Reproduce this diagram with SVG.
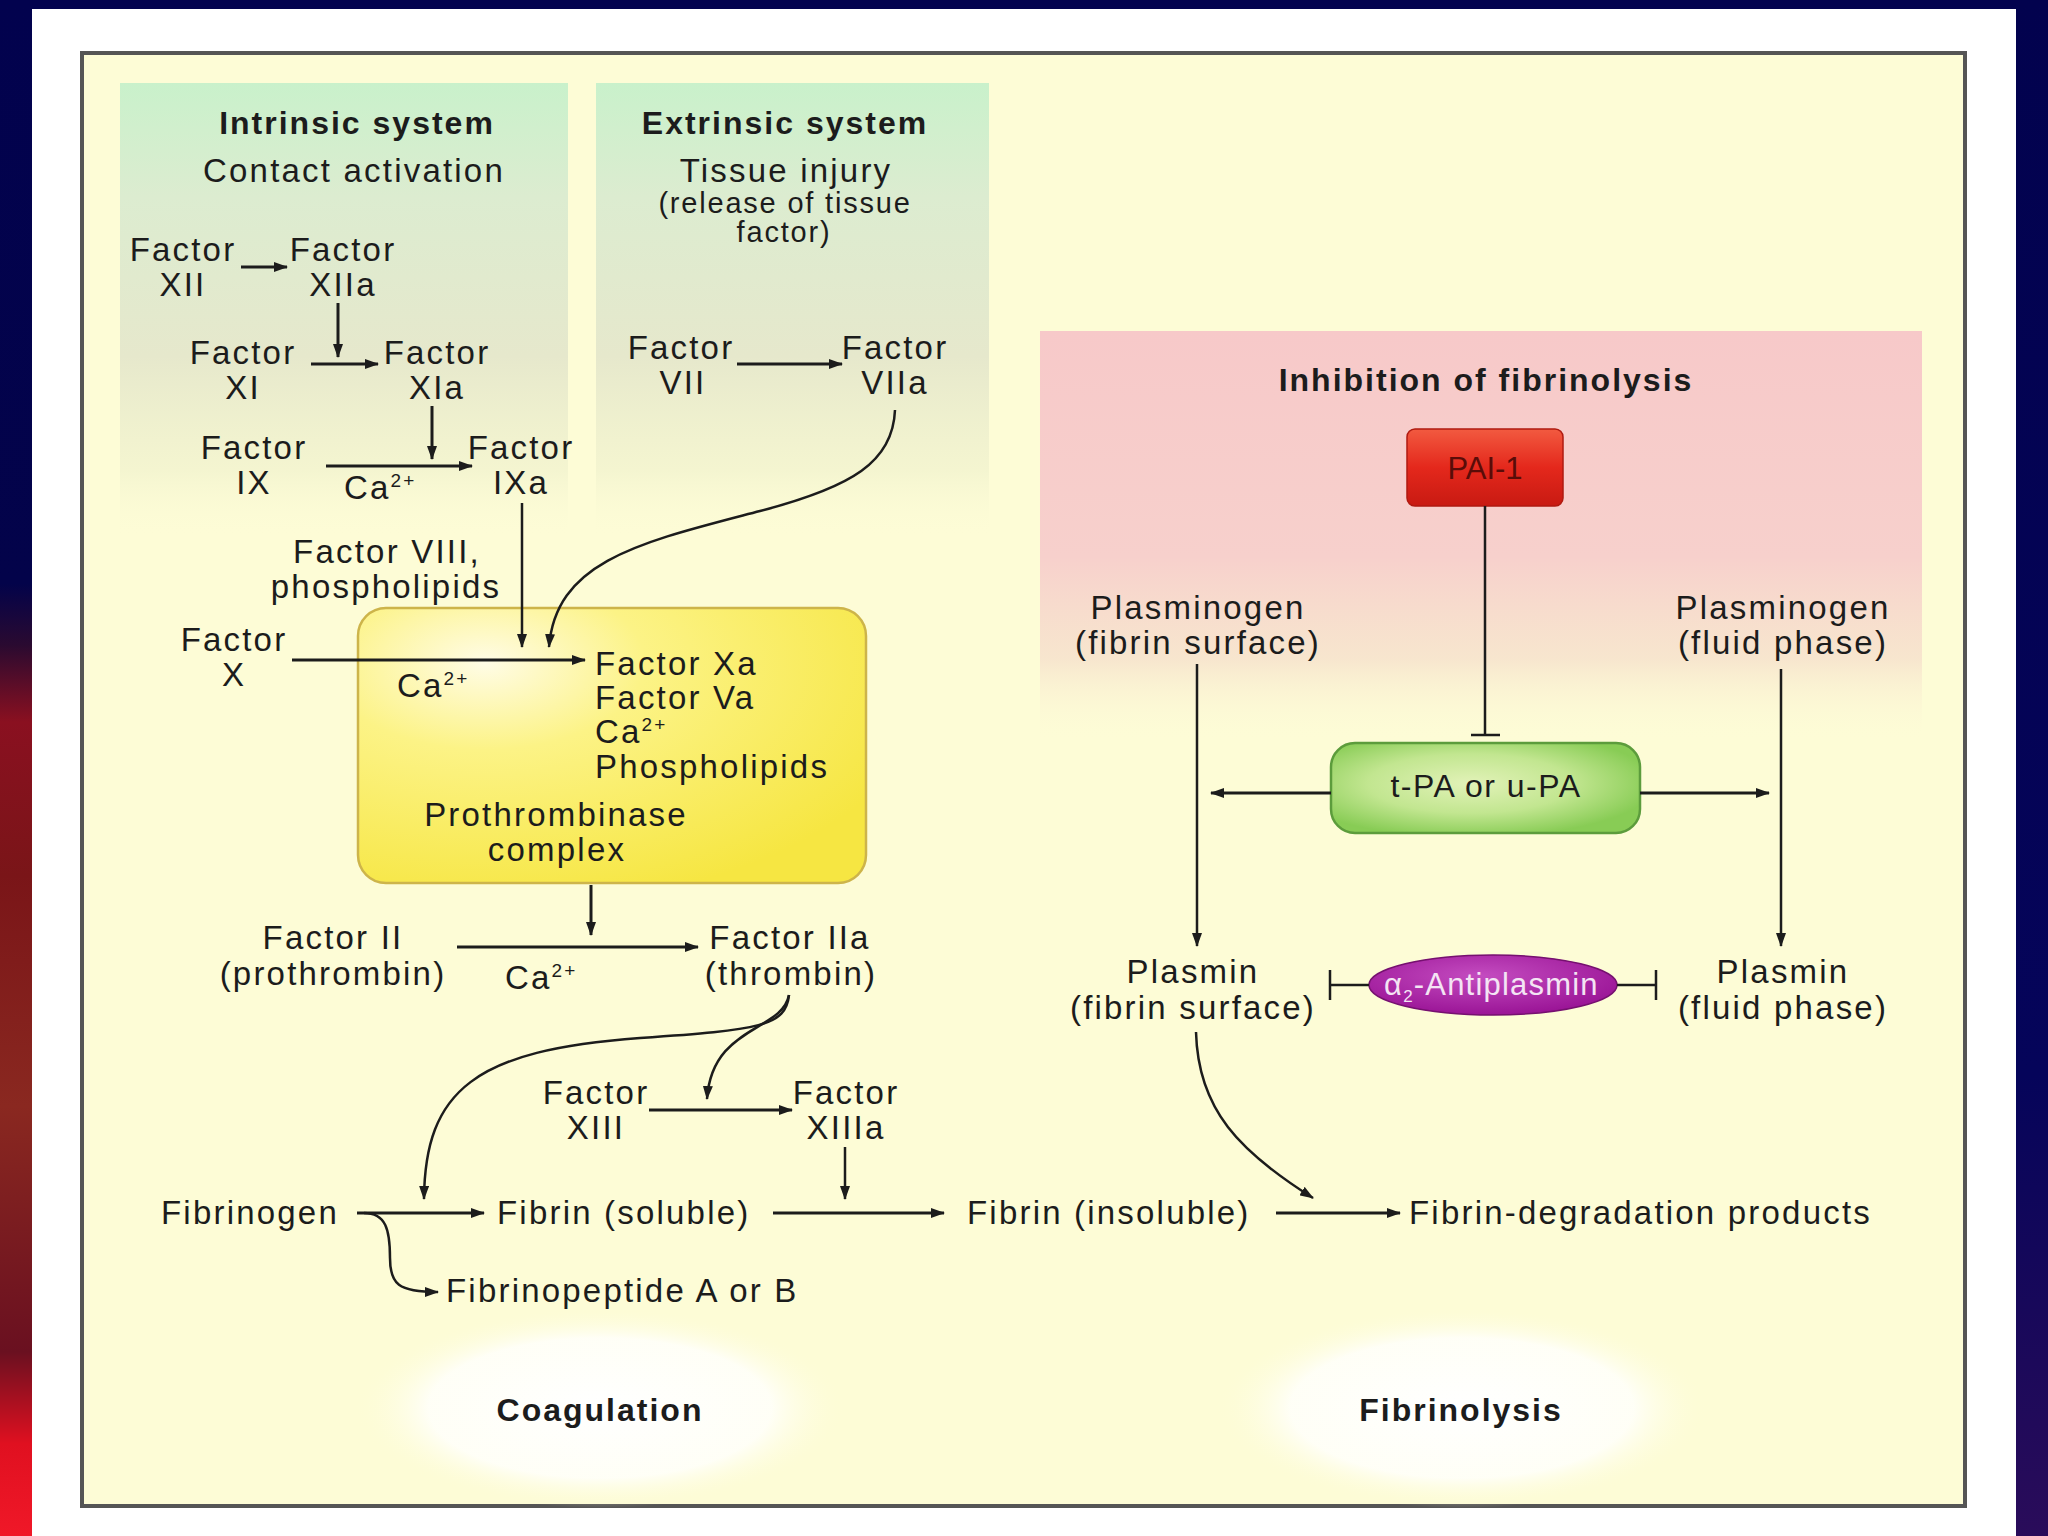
<svg xmlns="http://www.w3.org/2000/svg" width="2048" height="1536" viewBox="0 0 2048 1536">
<defs>
<style>
.t{font-family:"Liberation Sans",Arial,sans-serif;font-size:33px;letter-spacing:2.2px;fill:#1c1c1c}
.b{font-weight:bold;font-size:32px;letter-spacing:2px}
.c{text-anchor:middle}
.s{font-size:29px;letter-spacing:1.8px}
.ln{stroke:#1c1c1c;stroke-width:3;fill:none}
.th{stroke:#1c1c1c;stroke-width:2.5;fill:none}
.arr{marker-end:url(#ah)}
</style>
<marker id="ah" viewBox="0 0 14 10" refX="13" refY="5" markerWidth="14" markerHeight="10" markerUnits="userSpaceOnUse" orient="auto">
<path d="M0,0 L14,5 L0,10 z" fill="#1c1c1c"/>
</marker>
<linearGradient id="leftStrip" x1="0" y1="0" x2="0" y2="1">
<stop offset="0" stop-color="#02024e"/>
<stop offset="0.38" stop-color="#03034a"/>
<stop offset="0.42" stop-color="#2a0a30"/>
<stop offset="0.47" stop-color="#8a1020"/>
<stop offset="0.57" stop-color="#7a1518"/>
<stop offset="0.72" stop-color="#8a2820"/>
<stop offset="0.88" stop-color="#6a1020"/>
<stop offset="0.94" stop-color="#e01020"/>
<stop offset="1" stop-color="#f01828"/>
</linearGradient>
<linearGradient id="rightStrip" x1="0" y1="0" x2="0" y2="1">
<stop offset="0" stop-color="#02024e"/>
<stop offset="0.7" stop-color="#05045a"/>
<stop offset="1" stop-color="#2a0c5a"/>
</linearGradient>
<linearGradient id="greenG" x1="0" y1="0" x2="0" y2="1">
<stop offset="0" stop-color="#c9f1cb"/>
<stop offset="0.25" stop-color="#dcecd0"/>
<stop offset="0.6" stop-color="#e6e8cc"/>
<stop offset="0.85" stop-color="#eef0cc" stop-opacity="0.6"/>
<stop offset="1" stop-color="#fdfcd6" stop-opacity="0"/>
</linearGradient>
<linearGradient id="pinkG" x1="0" y1="0" x2="0" y2="1">
<stop offset="0" stop-color="#f7c9c9"/>
<stop offset="0.55" stop-color="#f7d0cc"/>
<stop offset="0.8" stop-color="#f6e0cc" stop-opacity="0.8"/>
<stop offset="1" stop-color="#fdfcd6" stop-opacity="0"/>
</linearGradient>
<radialGradient id="yelG" cx="0.25" cy="0.2" r="0.9">
<stop offset="0" stop-color="#fffce6"/>
<stop offset="0.35" stop-color="#fcf386"/>
<stop offset="1" stop-color="#f6e642"/>
</radialGradient>
<linearGradient id="redG" x1="0" y1="0" x2="0" y2="1">
<stop offset="0" stop-color="#f25a40"/>
<stop offset="0.5" stop-color="#e4281c"/>
<stop offset="1" stop-color="#c81a12"/>
</linearGradient>
<radialGradient id="grnG" cx="0.45" cy="0.45" r="0.6">
<stop offset="0" stop-color="#e2f2b8"/>
<stop offset="0.55" stop-color="#c2e690"/>
<stop offset="1" stop-color="#88cc55"/>
</radialGradient>
<radialGradient id="magG" cx="0.45" cy="0.35" r="0.65">
<stop offset="0" stop-color="#c44cc0"/>
<stop offset="1" stop-color="#9a1496"/>
</radialGradient>
<radialGradient id="glow" cx="0.5" cy="0.5" r="0.5">
<stop offset="0" stop-color="#ffffff"/>
<stop offset="0.7" stop-color="#fffffa" stop-opacity="0.9"/>
<stop offset="1" stop-color="#fdfcd6" stop-opacity="0"/>
</radialGradient>
</defs>

<!-- outer background -->
<rect x="0" y="0" width="2048" height="1536" fill="#02024e"/>
<rect x="0" y="0" width="32" height="1536" fill="url(#leftStrip)"/>
<rect x="2016" y="0" width="32" height="1536" fill="url(#rightStrip)"/>
<rect x="32" y="9" width="1984" height="1527" fill="#ffffff"/>

<!-- frame -->
<rect x="82" y="53" width="1883" height="1453" fill="#fdfcd6" stroke="#555555" stroke-width="4"/>

<!-- panels -->
<g id="panel-intrinsic"><rect x="120" y="83" width="448" height="455" fill="url(#greenG)"/></g>
<g id="panel-extrinsic"><rect x="596" y="83" width="393" height="455" fill="url(#greenG)"/></g>
<g id="panel-inhibition"><rect x="1040" y="331" width="882" height="410" fill="url(#pinkG)"/></g>
<ellipse cx="600" cy="1408" rx="245" ry="100" fill="url(#glow)"/>
<ellipse cx="1462" cy="1408" rx="245" ry="100" fill="url(#glow)"/>

<!-- headings -->
<g id="intrinsic-heading">
<text class="t b c" x="357" y="134">Intrinsic system</text>
<text class="t c" x="354" y="182">Contact activation</text>
</g>
<g id="extrinsic-heading">
<text class="t b c" x="785" y="134">Extrinsic system</text>
<text class="t c" x="786" y="182">Tissue injury</text>
<text class="t s c" x="785" y="213">(release of tissue</text>
<text class="t s c" x="784" y="242">factor)</text>
</g>

<!-- prothrombinase complex box -->
<g id="prothrombinase">
<rect x="358" y="608" width="508" height="275" rx="28" fill="url(#yelG)" stroke="#cdb44a" stroke-width="2.5"/>
<text class="t" x="397" y="697">Ca<tspan font-size="19" dy="-12">2+</tspan></text>
<text class="t" x="595" y="675">Factor Xa</text>
<text class="t" x="595" y="709">Factor Va</text>
<text class="t" x="595" y="743">Ca<tspan font-size="19" dy="-12">2+</tspan></text>
<text class="t" x="595" y="778">Phospholipids</text>
<text class="t c" x="556" y="826">Prothrombinase</text>
<text class="t c" x="557" y="861">complex</text>
</g>

<!-- factor nodes -->
<g id="factor-XII"><text class="t c" x="183" y="261">Factor</text><text class="t c" x="183" y="296">XII</text></g>
<g id="factor-XIIa"><text class="t c" x="343" y="261">Factor</text><text class="t c" x="343" y="296">XIIa</text></g>
<g id="factor-XI"><text class="t c" x="243" y="364">Factor</text><text class="t c" x="243" y="399">XI</text></g>
<g id="factor-XIa"><text class="t c" x="437" y="364">Factor</text><text class="t c" x="437" y="399">XIa</text></g>
<g id="factor-IX"><text class="t c" x="254" y="459">Factor</text><text class="t c" x="254" y="494">IX</text></g>
<g id="factor-IXa"><text class="t c" x="521" y="459">Factor</text><text class="t c" x="521" y="494">IXa</text></g>
<g id="ca-IX"><text class="t" x="344" y="499">Ca<tspan font-size="19" dy="-12">2+</tspan></text></g>
<g id="factor-VII"><text class="t c" x="681" y="359">Factor</text><text class="t c" x="683" y="394">VII</text></g>
<g id="factor-VIIa"><text class="t c" x="895" y="359">Factor</text><text class="t c" x="895" y="394">VIIa</text></g>
<g id="factor-VIII"><text class="t c" x="387" y="563">Factor VIII,</text><text class="t c" x="386" y="598">phospholipids</text></g>
<g id="factor-X"><text class="t c" x="234" y="651">Factor</text><text class="t c" x="234" y="686">X</text></g>
<g id="factor-II"><text class="t c" x="333" y="949">Factor II</text><text class="t c" x="333" y="985">(prothrombin)</text></g>
<g id="ca-II"><text class="t" x="505" y="989">Ca<tspan font-size="19" dy="-12">2+</tspan></text></g>
<g id="factor-IIa"><text class="t c" x="790" y="949">Factor IIa</text><text class="t c" x="791" y="985">(thrombin)</text></g>
<g id="factor-XIII"><text class="t c" x="596" y="1104">Factor</text><text class="t c" x="596" y="1139">XIII</text></g>
<g id="factor-XIIIa"><text class="t c" x="846" y="1104">Factor</text><text class="t c" x="846" y="1139">XIIIa</text></g>
<g id="fibrinogen"><text class="t" x="161" y="1224">Fibrinogen</text></g>
<g id="fibrin-soluble"><text class="t" x="497" y="1224">Fibrin (soluble)</text></g>
<g id="fibrin-insoluble"><text class="t" x="967" y="1224">Fibrin (insoluble)</text></g>
<g id="fdp"><text class="t" x="1409" y="1224">Fibrin-degradation products</text></g>
<g id="fibrinopeptide"><text class="t" x="446" y="1302">Fibrinopeptide A or B</text></g>
<g id="coagulation"><text class="t b c" x="600" y="1421">Coagulation</text></g>
<g id="fibrinolysis"><text class="t b c" x="1461" y="1421">Fibrinolysis</text></g>

<!-- fibrinolysis side -->
<g id="inhibition-heading"><text class="t b c" x="1486" y="391">Inhibition of fibrinolysis</text></g>
<g id="pai1">
<rect x="1407" y="429" width="156" height="77" rx="8" fill="url(#redG)" stroke="#b01a10" stroke-width="1.5"/>
<text class="t c" x="1485" y="479" style="font-size:31px;letter-spacing:0;fill:#5a0c08">PAI-1</text>
</g>
<g id="tpa">
<rect x="1331" y="743" width="309" height="90" rx="24" fill="url(#grnG)" stroke="#5c9c3c" stroke-width="2.5"/>
<text class="t c" x="1486" y="797" style="font-size:32px;letter-spacing:1.5px">t-PA or u-PA</text>
</g>
<g id="plasminogen-fibrin"><text class="t c" x="1198" y="619">Plasminogen</text><text class="t c" x="1198" y="654">(fibrin surface)</text></g>
<g id="plasminogen-fluid"><text class="t c" x="1783" y="619">Plasminogen</text><text class="t c" x="1783" y="654">(fluid phase)</text></g>
<g id="plasmin-fibrin"><text class="t c" x="1193" y="983">Plasmin</text><text class="t c" x="1193" y="1019">(fibrin surface)</text></g>
<g id="plasmin-fluid"><text class="t c" x="1783" y="983">Plasmin</text><text class="t c" x="1783" y="1019">(fluid phase)</text></g>
<g id="antiplasmin">
<ellipse cx="1493" cy="985" rx="124" ry="30" fill="url(#magG)" stroke="#761070" stroke-width="1.5"/>
<text x="1384" y="995" style="font-family:'Liberation Sans',Arial,sans-serif;font-size:31px;fill:#f4e4f4;letter-spacing:1.2px">α<tspan font-size="17" dy="7">2</tspan><tspan dy="-7">-Antiplasmin</tspan></text>
</g>

<!-- connectors -->
<g id="connectors">
<path class="ln arr" d="M241,267 L287,267"/>
<path class="ln arr" d="M338,303 L338,357"/>
<path class="ln arr" d="M311,364 L378,364"/>
<path class="ln arr" d="M432,406 L432,459"/>
<path class="ln arr" d="M326,466 L472,466"/>
<path class="ln arr" d="M737,364 L842,364"/>
<path class="th arr" d="M522,503 L522,647"/>
<path class="th arr" d="M895,410 C893,462 852,487 760,511 C642,542 556,560 549,647"/>
<path class="ln arr" d="M292,660 L585,660"/>
<path class="ln arr" d="M591,885 L591,935"/>
<path class="ln arr" d="M457,947 L698,947"/>
<path class="th arr" d="M789,995 C786,1026 760,1030 640,1038 C475,1050 425,1090 424,1199"/>
<path class="th arr" d="M789,995 C782,1032 712,1025 707,1099"/>
<path class="ln arr" d="M649,1110 L792,1110"/>
<path class="th arr" d="M845,1147 L845,1199"/>
<path class="ln arr" d="M357,1213 L484,1213"/>
<path class="th arr" d="M364,1213 C386,1213 390,1230 390,1258 C390,1284 398,1292 438,1292"/>
<path class="ln arr" d="M773,1213 L944,1213"/>
<path class="ln arr" d="M1276,1213 L1400,1213"/>
<path class="th arr" d="M1197,664 L1197,946"/>
<path class="th arr" d="M1781,669 L1781,946"/>
<path class="ln arr" d="M1331,793 L1211,793"/>
<path class="ln arr" d="M1640,793 L1769,793"/>
<path class="th" d="M1485,506 L1485,735 M1471,735 L1500,735"/>
<path class="th" d="M1369,985 L1330,985 M1330,970 L1330,1000"/>
<path class="th" d="M1617,985 L1656,985 M1656,970 L1656,1000"/>
<path class="th arr" d="M1196,1032 C1198,1110 1240,1152 1313,1198"/>
</g>
</svg>
